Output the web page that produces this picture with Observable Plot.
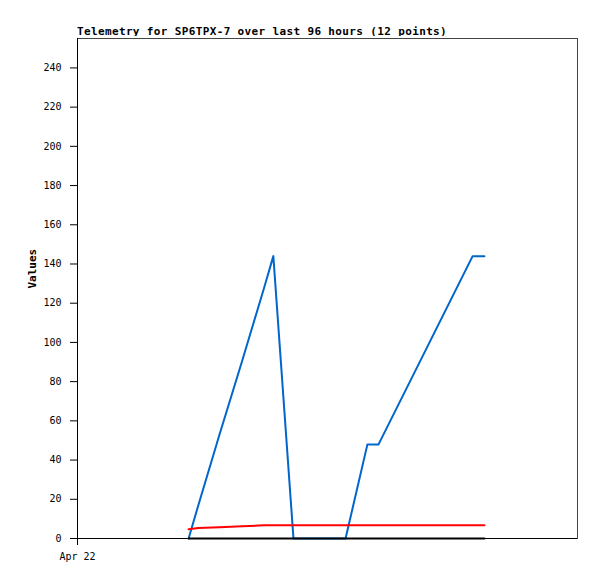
<!DOCTYPE html>
<html>
<head>
<meta charset="utf-8">
<script src="https://cdn.jsdelivr.net/npm/d3@7"></script>
<script src="https://cdn.jsdelivr.net/npm/@observablehq/plot@0.6"></script>
<style>
  html, body { margin: 0; padding: 0; background: #fff; }
  #wrap { position: relative; width: 597px; height: 579px; }
  #title { position: absolute; left: 77px; top: 25px; font-family: "DejaVu Sans Mono", monospace; font-weight: bold; font-size: 11px; line-height: 13px; letter-spacing: 0.36px; color: #000; white-space: nowrap; }
  #chart { position: absolute; left: 0; top: 36px; }
</style>
</head>
<body>
<div id="wrap">
  <div id="title">Telemetry for SP6TPX-7 over last 96 hours (12 points)</div>
  <div id="chart"></div>
</div>
<script>
// Data
const times = ["2024-04-22T05:20Z","2024-04-22T05:48Z","2024-04-22T06:49Z","2024-04-22T07:55Z",
               "2024-04-22T08:56Z","2024-04-22T09:24Z","2024-04-22T10:22Z","2024-04-22T12:52Z",
               "2024-04-22T13:55Z","2024-04-22T14:27Z","2024-04-22T18:58Z","2024-04-22T19:32Z"];
const blueValues  = [0, 17, 53, 91, 127, 144, 0, 0, 48, 48, 144, 144];
const redValues   = [4.7, 5.3, 5.7, 6.2, 6.7, 6.8, 6.8, 6.8, 6.8, 6.8, 6.8, 6.8];
const blackValues = [0, 0, 0, 0, 0, 0, 0, 0, 0, 0, 0, 0];
const yTicks = [0, 20, 40, 60, 80, 100, 120, 140, 160, 180, 200, 220, 240];
const xTickDates = ["2024-04-22T00:00Z"];
const xDomain = ["2024-04-22T00:00Z", "2024-04-23T00:00Z"];
const yLabel = "Values";

const dates = times.map(t => new Date(t));
const mk = vals => vals.map((v, i) => ({t: dates[i], v}));
const blue = mk(blueValues), red = mk(redValues), black = mk(blackValues);

const chart = Plot.plot({
  width: 597,
  height: 543,
  marginTop: 2,
  marginLeft: 77,
  marginRight: 20,
  marginBottom: 41,
  style: {fontFamily: "'DejaVu Sans Mono', monospace", fontSize: "10px", color: "#000", background: "#fff"},
  x: {type: "utc", domain: xDomain.map(d => new Date(d))},
  y: {domain: [0, 255]},
  marks: [
    Plot.frame({stroke: "#444", strokeWidth: 1}),
    Plot.axisY({ticks: yTicks, tickSize: 7, tickPadding: 9, label: null, stroke: "#000", strokeOpacity: 1}),
    Plot.axisX({ticks: xTickDates.map(d => new Date(d)), tickSize: 7, tickPadding: 7, label: null,
                tickFormat: d3.utcFormat("%b %d"), stroke: "#000", strokeOpacity: 1}),
    Plot.ruleX([0], {x: () => new Date(xDomain[0]), stroke: "#000"}),
    Plot.ruleY([0], {stroke: "#000"}),
    Plot.lineY(blue, {x: "t", y: "v", stroke: "#0066cc", strokeWidth: 2}),
    Plot.lineY(red, {x: "t", y: "v", stroke: "#ff0000", strokeWidth: 2}),
    Plot.lineY(black, {x: "t", y: "v", stroke: "#000000", strokeWidth: 2}),
    Plot.text([yLabel], {frameAnchor: "left", dx: -45, rotate: -90, fontWeight: "bold", fontSize: 11, text: d => d})
  ]
});
document.getElementById("chart").appendChild(chart);
</script>
</body>
</html>
